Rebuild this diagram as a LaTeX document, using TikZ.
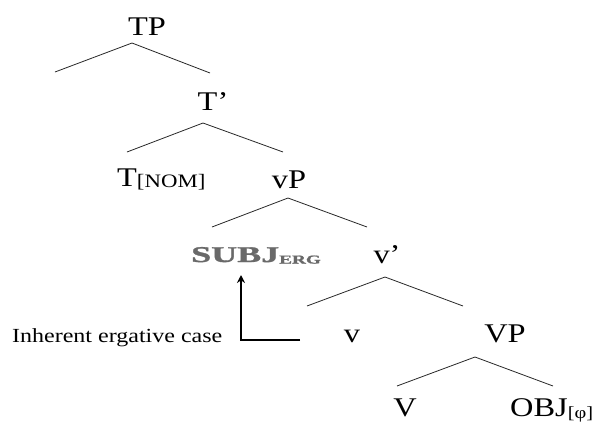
\documentclass[tikz,border=0pt]{standalone}
\usepackage{fontspec}
\setmainfont[FakeStretch=1.2]{Liberation Serif}
\newfontfamily\subjfont[FakeStretch=1.6,FakeBold=1.5]{Liberation Serif Bold}
\usetikzlibrary{arrows.meta}
\definecolor{subjgray}{RGB}{105,105,105}
\definecolor{branchcol}{RGB}{40,40,40}
\tikzset{
  lab/.style={inner sep=0pt, anchor=base, font=\fontsize{27}{30}\selectfont},
  labw/.style={lab, anchor=base west},
  branch/.style={draw=branchcol, line width=0.8pt},
  arr/.style={draw=black, line width=1.8pt, -{Stealth[length=8pt,width=8pt]}},
}
\begin{document}
\begin{tikzpicture}[x=1pt,y=-1pt]
\useasboundingbox (0,0) rectangle (600,424);
% labels
\node[lab] (TP) at (147,35) {TP};
\node[lab] (Tbar) at (213,110) {T’};
\node[labw] (T) at (117,186) {T\raisebox{-1pt}{\fontsize{19}{20}\selectfont[NOM]}};
\node[lab] (vP) at (289,188) {vP};
\node[labw, text=subjgray] (subj) at (191,262) {\subjfont\fontsize{22.5}{24}\selectfont SUBJ\raisebox{-1.5pt}{\fontsize{12}{13}\selectfont ERG}};
\node[lab] (vbar) at (387,263) {v’};
\node[lab] (v) at (352,342) {v};
\node[lab] (VP) at (505,342) {VP};
\node[lab] (V) at (405,416) {V};
\node[labw] (OBJ) at (510,416) {OBJ\raisebox{-2pt}{\fontsize{17}{18}\selectfont[φ]}};
\node[labw, font=\fontsize{20}{22}\selectfont] (case) at (12,342) {Inherent ergative case};
% branch coordinates
\coordinate (a1) at (132,43); \coordinate (l1) at (55,72);  \coordinate (r1) at (210,73);
\coordinate (a2) at (203,123); \coordinate (l2) at (127,152); \coordinate (r2) at (283,152);
\coordinate (a3) at (288,198); \coordinate (l3) at (212,227); \coordinate (r3) at (367,227);
\coordinate (a4) at (385,277); \coordinate (l4) at (307,306); \coordinate (r4) at (463,306);
\coordinate (a5) at (475,357); \coordinate (l5) at (397,386); \coordinate (r5) at (553,386);
\draw[branch] (l1) -- (a1) -- (r1);
\draw[branch] (l2) -- (a2) -- (r2);
\draw[branch] (l3) -- (a3) -- (r3);
\draw[branch] (l4) -- (a4) -- (r4);
\draw[branch] (l5) -- (a5) -- (r5);
% arrow
\coordinate (arrstart) at (300,340);
\coordinate (arrtip) at (241,275);
\draw[arr] (arrstart) -| (arrtip);
\end{tikzpicture}
\end{document}
